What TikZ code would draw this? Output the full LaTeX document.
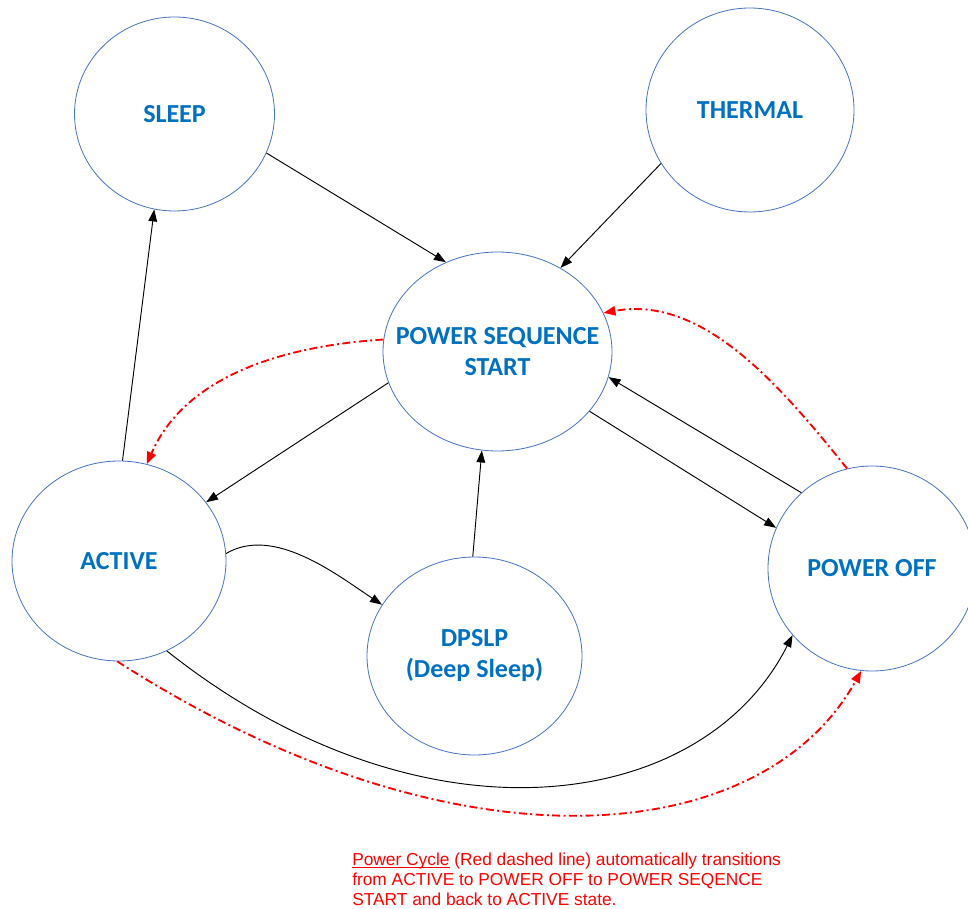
\documentclass[tikz,border=0pt]{standalone}
\usepackage{fontspec}
\usetikzlibrary{shapes.geometric,arrows.meta}
\newfontfamily\statefont{Carlito}
\newfontfamily\notefont{Liberation Sans}
\definecolor{stateline}{HTML}{4472C4}
\definecolor{statetext}{HTML}{0070C0}
\begin{document}
\begin{tikzpicture}
    [x=0.75pt,y=-0.75pt,
     state/.style={ellipse,draw=stateline,line width=0.6pt,inner sep=0pt,align=center,
       text=statetext,font=\statefont\bfseries\fontsize{19.5pt}{23.25pt}\selectfont},
     trans/.style={line width=0.7pt,-{Triangle[length=9pt,width=6.5pt]}},
     powercycle/.style={red,line width=1.4pt,dash pattern=on 6pt off 2.5pt on 1.5pt off 2.5pt,
       -{Triangle[length=9pt,width=7pt]}}]
    \clip (0, 0) rectangle (968, 909);
    \node (sleep) at (174.5, 114) [state,minimum width=150pt,minimum height=145.5pt] {SLEEP};
    \node (thermal) at (750, 110) [state,minimum width=156pt,minimum height=153pt] {THERMAL};
    \node (pss) at (497.5, 351.5) [state,inner xsep=-20pt,minimum width=171.75pt,minimum height=149.25pt] {POWER SEQUENCE\\START};
    \node (active) at (119, 561) [state,minimum width=160.5pt,minimum height=150pt] {ACTIVE};
    \node (dpslp) at (474.5, 656) [state,minimum width=161.25pt,minimum height=148.5pt] {DPSLP\\(Deep Sleep)};
    \node (poff) at (872, 568.5) [state,minimum width=156pt,minimum height=153.75pt] {POWER OFF};
    \node (note) at (352, 853) [anchor=north west,inner sep=0pt,align=left,text=red,
      font=\notefont\fontsize{13pt}{15pt}\selectfont]
      {\underline{\smash{Power Cycle}} (Red dashed line) automatically transitions\\from ACTIVE to POWER OFF to POWER SEQENCE\\START and back to ACTIVE state.};
    \draw [trans] (sleep.-23) to (pss.120);
    \draw [trans] (thermal.-149) to (pss.53.5);
    \draw [trans] (active.88) to (sleep.-102);
    \draw [trans] (pss.-164) to (active.34);
    \draw [trans] (pss.-33.6) to (poff.157);
    \draw [trans] (poff.133) to (pss.-13.7);
    \draw [trans] (dpslp.91) to (pss.-99);
    \draw [trans] (active.4) .. controls (273.6, 525.5) and (335.9, 574) .. (dpslp.151);
    \draw [trans] (active.-62) .. controls (420, 852) and (702, 815) .. (poff.-140);
    \draw [powercycle] (pss.174) .. controls (272, 346.7) and (183, 381) .. (active.74);
    \draw [powercycle] (poff.104) .. controls (779, 384) and (702.5, 295) .. (pss.20);
    \draw [powercycle] (active.-91) .. controls (455, 878) and (762, 850) .. (poff.-96);
  \end{tikzpicture}
\end{document}
